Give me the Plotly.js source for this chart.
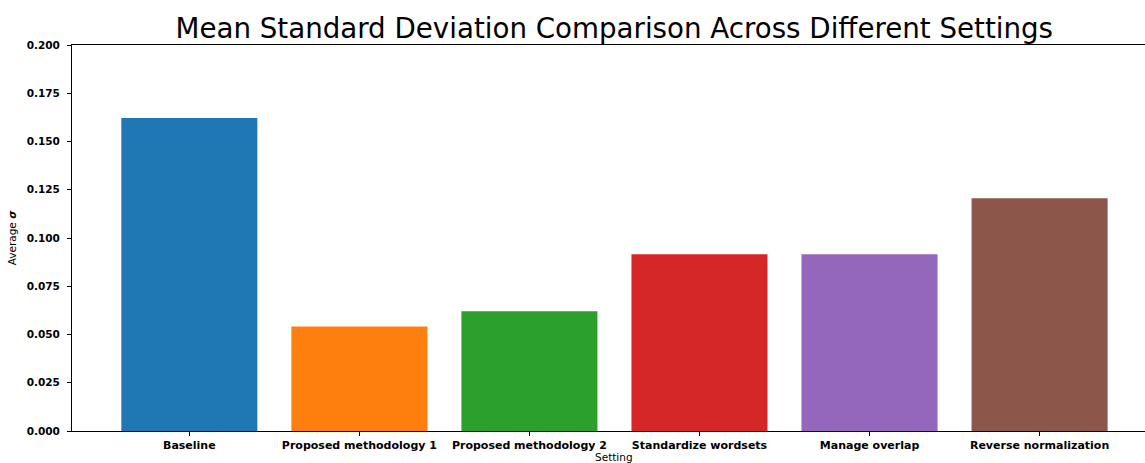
<!DOCTYPE html>
<html>
<head>
<meta charset="utf-8">
<script src="https://cdn.plot.ly/plotly-3.0.1.min.js"></script>
<style>html,body{margin:0;padding:0;overflow:hidden;background:#fff;}#chart{width:1145px;height:463px;}</style>
</head>
<body>
<div id="chart"></div>
<script>
var categories = ["Baseline", "Proposed methodology 1", "Proposed methodology 2", "Standardize wordsets", "Manage overlap", "Reverse normalization"];
var values = [0.1622, 0.0542, 0.0620, 0.0916, 0.0916, 0.1206];
var colors = ["#1f77b4", "#ff7f0e", "#2ca02c", "#d62728", "#9467bd", "#8c564b"];
var yTicks = [0, 0.025, 0.05, 0.075, 0.1, 0.125, 0.15, 0.175, 0.2];
var yTickText = ["0.000", "0.025", "0.050", "0.075", "0.100", "0.125", "0.150", "0.175", "0.200"];

var xIdx = categories.map(function (c, i) { return i; });

var trace = {
  type: "bar",
  x: xIdx,
  y: values,
  width: 0.8,
  marker: { color: colors, line: { width: 0 } },
  hoverinfo: "skip"
};

var layout = {
  width: 1145,
  height: 463,
  margin: { l: 72, r: 0, t: 45, b: 32 },
  paper_bgcolor: "#fff",
  plot_bgcolor: "#fff",
  font: { family: "DejaVu Sans", color: "#000" },
  showlegend: false,
  title: {
    text: "Mean Standard Deviation Comparison Across Different Settings",
    font: { family: "DejaVu Sans", size: 27.7, color: "#000" },
    x: 0.5365, xanchor: "center", xref: "container",
    y: 1, yref: "paper", yanchor: "bottom", pad: { b: 7 }
  },
  xaxis: {
    range: [-0.69, 5.62],
    tickmode: "array",
    tickvals: xIdx,
    ticktext: categories.map(function (c) { return "<b>" + c + "</b>"; }),
    tickfont: { family: "DejaVu Sans", size: 11, color: "#000" },
    ticks: "outside", ticklen: 4, tickwidth: 1, tickcolor: "#000",
    showline: true, linecolor: "#000", linewidth: 1, mirror: true,
    showgrid: false, zeroline: false,
    automargin: false
  },
  yaxis: {
    range: [0, 0.2],
    tickmode: "array",
    tickvals: yTicks,
    ticktext: yTickText.map(function (t) { return "<b>" + t + "</b>"; }),
    tickfont: { family: "DejaVu Sans", size: 10.5, color: "#000" },
    ticks: "outside", ticklen: 4, tickwidth: 1, tickcolor: "#000",
    ticklabelstandoff: 5,
    showline: true, linecolor: "#000", linewidth: 1, mirror: false,
    showgrid: false, zeroline: false,
    title: { text: "Average <b><i>σ</i></b>", font: { family: "DejaVu Sans", size: 10.5, color: "#000" }, standoff: 8 },
    automargin: false
  },
  annotations: [{
    text: "Setting",
    xref: "x", x: 2.5, yref: "paper", y: 0,
    xanchor: "center", yanchor: "top", yshift: -18,
    showarrow: false,
    font: { family: "DejaVu Sans", size: 10.5, color: "#000" }
  }],
  bargap: 0.2
};

Plotly.newPlot("chart", [trace], layout, { displayModeBar: false, staticPlot: true });
</script>
</body>
</html>
